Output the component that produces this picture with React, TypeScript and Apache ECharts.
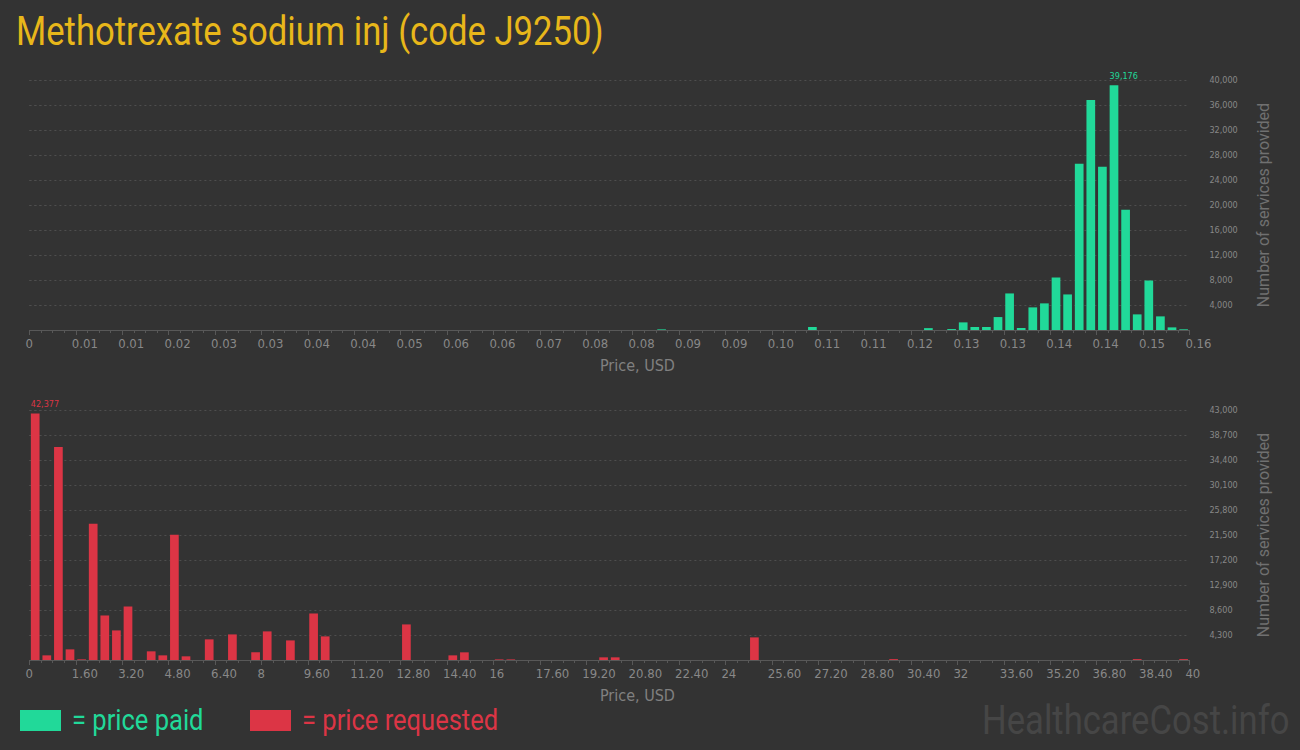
import React, { useEffect, useRef } from "react";
import * as echarts from "echarts";

// ---- data ----
const BIN_COUNT = 100;
const paidMaxPrice = 0.157; // USD, right edge of the "price paid" histogram
const requestedMaxPrice = 40; // USD, right edge of the "price requested" histogram

const paidBins = [54, 67, 77, 79, 80, 81, 82, 83, 84, 85, 86, 87, 88, 89, 90, 91, 92, 93, 94, 95, 96, 97, 98, 99];
const paidCounts = [100, 480, 300, 150, 1220, 480, 480, 2070, 5850, 320, 3620, 4260, 8400, 5690, 26600, 36800, 26120, 39176, 19250, 2500, 7920, 2180, 420, 110];

const requestedBins = [0, 1, 2, 3, 4, 5, 6, 7, 8, 10, 11, 12, 13, 15, 17, 19, 20, 22, 24, 25, 32, 36, 37, 40, 41, 49, 50, 62, 74, 95, 99];
const requestedCounts = [42377, 800, 36650, 1830, 110, 23440, 7660, 5090, 9210, 1490, 800, 21560, 630, 3550, 4400, 1320, 4920, 3370, 8000, 4060, 6120, 800, 1320, 100, 100, 460, 460, 3890, 150, 150, 150];

const paidYMax = 40000;
const paidYStep = 4000;
const requestedYMax = 43000;
const requestedYStep = 4300;

const title = "Methotrexate sodium inj (code J9250)";
const xName = "Price, USD";
const yName = "Number of services provided";
const legendPaid = "= price paid";
const legendRequested = "= price requested";
const watermark = "HealthcareCost.info";

// ---- styles ----
const BG = "#333333";
const GREEN = "#21d999";
const RED = "#dc3545";
const TITLE_COLOR = "#e8b71a";
const NARROW = "'Liberation Sans Narrow', 'DejaVu Sans Condensed', 'Roboto', sans-serif";

function fmtPrice(v: number): string {
  const r = Math.round(v * 1e6) / 1e6;
  return Number.isInteger(r) ? String(r) : r.toFixed(2);
}
function fmtCount(v: number): string {
  return Math.round(v).toLocaleString("en-US");
}

function buildData(bins: number[], counts: number[], color: string) {
  const maxVal = Math.max(...counts);
  return bins.map((b, i) => {
    const item: any = { value: [b + 0.5, counts[i]] };
    if (counts[i] === maxVal) {
      item.label = {
        show: true,
        position: "top",
        align: "left",
        offset: [-4.4, 0],
        distance: 5,
        formatter: () => fmtCount(counts[i]),
        color,
        fontSize: 9,
        fontFamily: NARROW,
      };
    }
    return item;
  });
}

function xAxisFor(gridIndex: number, maxPrice: number) {
  return {
    type: "value",
    gridIndex,
    min: 0,
    max: BIN_COUNT,
    interval: 4,
    name: xName,
    nameLocation: "middle",
    nameGap: 27,
    nameTextStyle: { color: "#808080", fontSize: 16, fontFamily: NARROW, padding: [0, 0, 0, 56] },
    axisLine: { show: true, lineStyle: { color: "#585858", width: 1 } },
    axisTick: { show: true, length: 5, lineStyle: { color: "#585858" } },
    minorTick: { show: true, splitNumber: 4, length: 3, lineStyle: { color: "#585858" } },
    splitLine: { show: false },
    axisLabel: {
      color: "#888888",
      fontSize: 13,
      fontFamily: NARROW,
      margin: 7,
      align: "left",
      padding: [0, 0, 0, -4],
      formatter: (v: number) => fmtPrice((v * maxPrice) / BIN_COUNT),
    },
  };
}

function yAxisFor(gridIndex: number, max: number, step: number) {
  return {
    type: "value",
    gridIndex,
    position: "right",
    min: 0,
    max,
    interval: step,
    name: yName,
    nameLocation: "middle",
    nameRotate: 90,
    nameGap: 66,
    nameTextStyle: { color: "#707070", fontSize: 16, fontFamily: "Roboto" },
    axisLine: { show: false },
    axisTick: { show: true, length: 17, lineStyle: { color: "#4e4e4e", type: [2, 3] } },
    splitLine: { show: true, lineStyle: { color: "#4e4e4e", type: [2, 3], width: 1 } },
    axisLabel: {
      color: "#888888",
      fontSize: 9,
      fontFamily: NARROW,
      margin: 20,
      align: "left",
      showMinLabel: false,
      formatter: (v: number) => fmtCount(v),
    },
  };
}

export default function App() {
  const ref = useRef<HTMLDivElement>(null);

  useEffect(() => {
    if (!ref.current) return;
    const chart = echarts.init(ref.current, undefined, { renderer: "svg" });
    const option: any = {
      animation: false,
      backgroundColor: BG,
      grid: [
        { left: 29.4, right: 110.6, top: 80, height: 250 },
        { left: 29.4, right: 110.6, top: 410, height: 250 },
      ],
      xAxis: [xAxisFor(0, paidMaxPrice), xAxisFor(1, requestedMaxPrice)],
      yAxis: [yAxisFor(0, paidYMax, paidYStep), yAxisFor(1, requestedYMax, requestedYStep)],
      series: [
        {
          type: "bar",
          name: "price paid",
          xAxisIndex: 0,
          yAxisIndex: 0,
          barWidth: "75%",
          itemStyle: { color: GREEN },
          data: buildData(paidBins, paidCounts, GREEN),
        },
        {
          type: "bar",
          name: "price requested",
          xAxisIndex: 1,
          yAxisIndex: 1,
          barWidth: "75%",
          itemStyle: { color: RED },
          data: buildData(requestedBins, requestedCounts, RED),
        },
      ],
      graphic: [
        {
          type: "text",
          x: 16,
          y: 31,
          scaleX: 0.866,
          style: {
            text: title,
            fill: TITLE_COLOR,
            font: "40px Roboto",
            align: "left",
            verticalAlign: "middle",
          },
        },
        { type: "rect", shape: { x: 20, y: 710, width: 41, height: 21 }, style: { fill: GREEN } },
        {
          type: "text",
          x: 72,
          y: 720,
          scaleX: 0.88,
          style: { text: legendPaid, fill: GREEN, font: "29px Roboto", align: "left", verticalAlign: "middle" },
        },
        { type: "rect", shape: { x: 250, y: 710, width: 41, height: 21 }, style: { fill: RED } },
        {
          type: "text",
          x: 302,
          y: 720,
          scaleX: 0.88,
          style: { text: legendRequested, fill: RED, font: "29px Roboto", align: "left", verticalAlign: "middle" },
        },
        {
          type: "text",
          x: 982,
          y: 720,
          scaleX: 0.866,
          style: { text: watermark, fill: "#464646", font: "40px Roboto", align: "left", verticalAlign: "middle" },
        },
      ],
    };
    chart.setOption(option);
    return () => chart.dispose();
  }, []);

  return (
    <div
      ref={ref}
      style={{ position: "fixed", left: 0, top: 0, width: 1300, height: 750, background: BG }}
    />
  );
}
